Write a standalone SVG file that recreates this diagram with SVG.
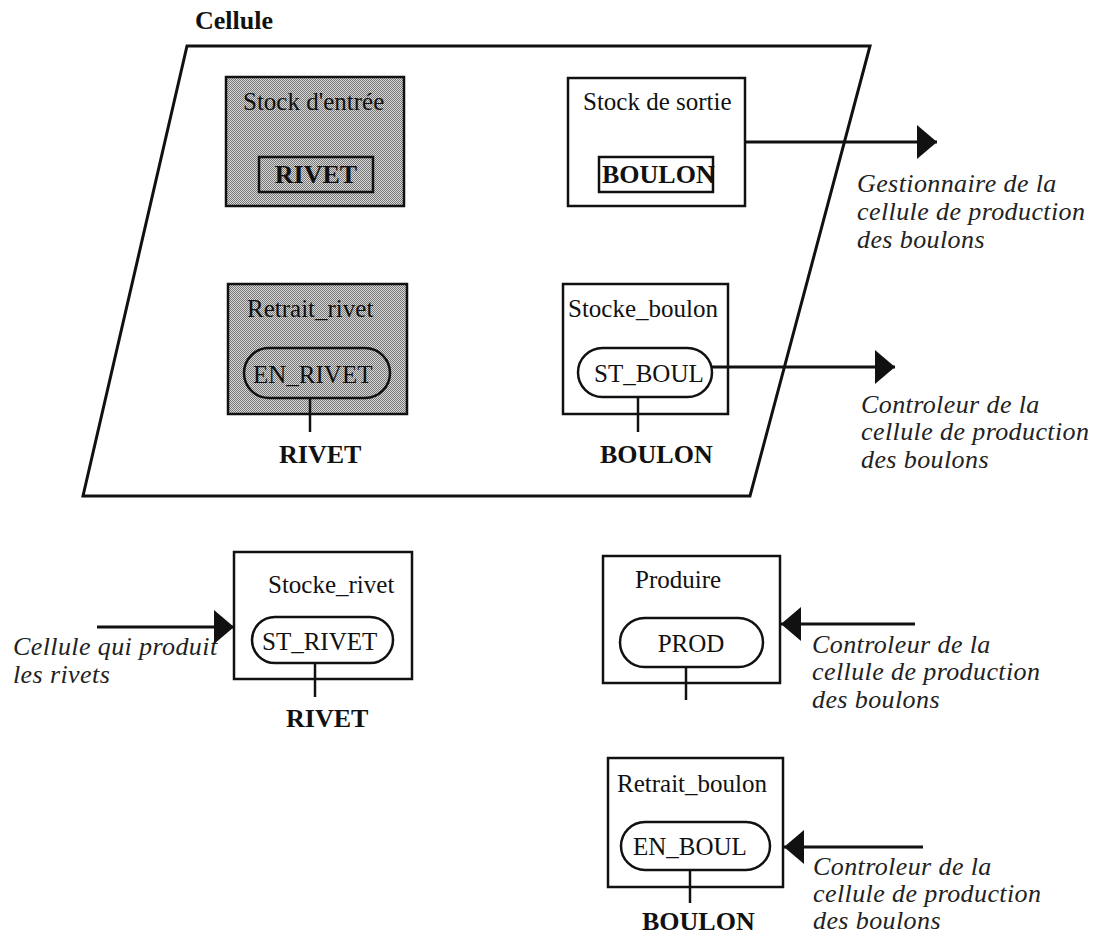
<svg xmlns="http://www.w3.org/2000/svg" width="1094" height="941" viewBox="0 0 1094 941">
<defs>
<pattern id="dither" width="2" height="2" patternUnits="userSpaceOnUse">
<rect width="2" height="2" fill="#d8d8d8"/>
<rect width="1" height="1" fill="#777"/>
<rect x="1" y="1" width="1" height="1" fill="#777"/>
</pattern>
<marker id="head" markerUnits="userSpaceOnUse" markerWidth="20" markerHeight="34" refX="20" refY="17" orient="auto" viewBox="0 0 20 34">
<path d="M0,0 L20,17 L0,34 Z" fill="#111"/>
</marker>
<style>
.box{fill:#fff;stroke:#111;stroke-width:2.5}
.grey{fill:url(#dither);stroke:#111;stroke-width:2.5}
.pill{fill:none;stroke:#111;stroke-width:2.5}
.stem{stroke:#111;stroke-width:2.5}
.t{font-family:"Liberation Serif",serif;font-size:25px;fill:#111}
.b{font-family:"Liberation Serif",serif;font-size:26px;font-weight:bold;fill:#111}
.i{font-family:"Liberation Serif",serif;font-size:26px;font-style:italic;fill:#222;letter-spacing:0.4px}
.arrow{stroke:#111;stroke-width:3;fill:none;marker-end:url(#head)}
</style>
</defs>
<rect width="1094" height="941" fill="#fff"/>

<g id="cellule">
<text class="b" x="195" y="29">Cellule</text>
<polygon points="187,46 870,46 750,496 83,496" fill="none" stroke="#111" stroke-width="3"/>
</g>

<g id="stock_entree">
<rect class="grey" x="226" y="77" width="178" height="129"/>
<text class="t" x="243" y="110">Stock d'entrée</text>
<rect class="grey" x="259" y="157" width="114" height="35" stroke-width="3"/>
<text class="b" x="316" y="183" text-anchor="middle">RIVET</text>
</g>

<g id="stock_sortie">
<rect class="box" x="568" y="78" width="177" height="128"/>
<text class="t" x="583" y="110">Stock de sortie</text>
<rect class="pill" x="599" y="157" width="114" height="35" stroke-width="3"/>
<text class="b" x="602" y="183">BOULON</text>
</g>

<g id="retrait_rivet">
<rect class="grey" x="228" y="284" width="179" height="130"/>
<text class="t" x="247" y="317">Retrait_rivet</text>
<rect class="pill" x="244" y="348" width="146" height="50" rx="25"/>
<text class="t" x="253" y="383">EN_RIVET</text>
<line class="stem" x1="310" y1="398" x2="310" y2="432"/>
<text class="b" x="279" y="463">RIVET</text>
</g>

<g id="stocke_boulon">
<rect class="box" x="563" y="284" width="165" height="130"/>
<text class="t" x="568" y="317">Stocke_boulon</text>
<rect class="pill" x="578" y="348" width="134" height="49" rx="24.5"/>
<text class="t" x="594" y="382">ST_BOUL</text>
<line class="stem" x1="638" y1="397" x2="638" y2="432"/>
<text class="b" x="600" y="463">BOULON</text>
</g>

<g id="stocke_rivet">
<rect class="box" x="234" y="552" width="178" height="127"/>
<text class="t" x="268" y="593">Stocke_rivet</text>
<rect class="pill" x="252" y="617" width="141" height="46" rx="23"/>
<text class="t" x="262" y="650">ST_RIVET</text>
<line class="stem" x1="315" y1="663" x2="315" y2="697"/>
<text class="b" x="286" y="727">RIVET</text>
</g>

<g id="produire">
<rect class="box" x="603" y="556" width="177" height="127"/>
<text class="t" x="635" y="588">Produire</text>
<rect class="pill" x="620" y="618" width="143" height="49" rx="24.5"/>
<text class="t" x="691" y="652" text-anchor="middle">PROD</text>
<line class="stem" x1="686" y1="667" x2="686" y2="700"/>
</g>

<g id="retrait_boulon">
<rect class="box" x="608" y="758" width="175" height="129"/>
<text class="t" x="617" y="792">Retrait_boulon</text>
<rect class="pill" x="621" y="822" width="149" height="48" rx="24"/>
<text class="t" x="633" y="855">EN_BOUL</text>
<line class="stem" x1="690" y1="870" x2="690" y2="903"/>
<text class="b" x="642" y="930">BOULON</text>
</g>

<g id="labels">
<text class="i" x="857" y="192">Gestionnaire de la</text>
<text class="i" x="857" y="220">cellule de production</text>
<text class="i" x="857" y="248">des boulons</text>
<text class="i" x="861" y="413">Controleur de la</text>
<text class="i" x="861" y="440">cellule de production</text>
<text class="i" x="861" y="468">des boulons</text>
<text class="i" x="13" y="655">Cellule qui produit</text>
<text class="i" x="13" y="683">les rivets</text>
<text class="i" x="812" y="653">Controleur de la</text>
<text class="i" x="812" y="680">cellule de production</text>
<text class="i" x="812" y="708">des boulons</text>
<text class="i" x="813" y="875">Controleur de la</text>
<text class="i" x="813" y="902">cellule de production</text>
<text class="i" x="813" y="929">des boulons</text>
</g>

<g id="connectors">
<line class="arrow" x1="745" y1="142" x2="937" y2="142"/>
<line class="arrow" x1="712" y1="367" x2="895" y2="367"/>
<line class="arrow" x1="97" y1="627" x2="234" y2="627"/>
<line class="arrow" x1="915" y1="624" x2="781" y2="624"/>
<line class="arrow" x1="923" y1="847" x2="784" y2="847"/>
</g>
</svg>
